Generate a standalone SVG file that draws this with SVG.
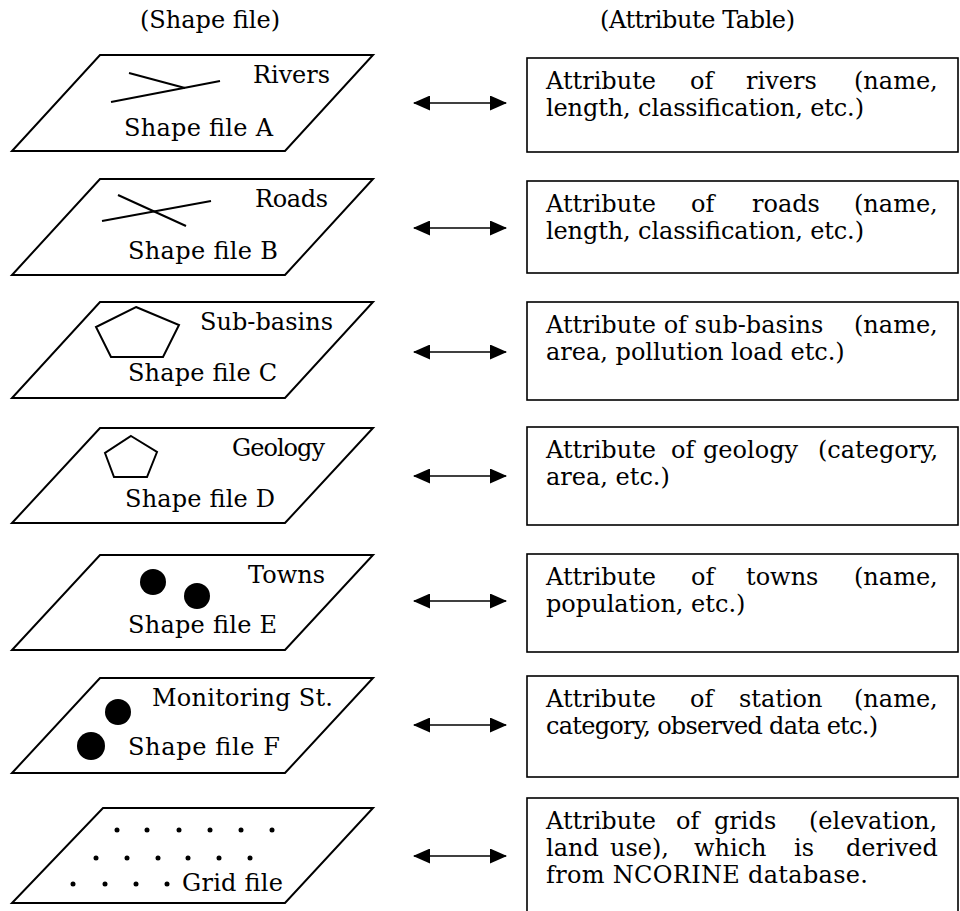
<svg xmlns="http://www.w3.org/2000/svg" width="960" height="911" viewBox="0 0 960 911" font-family="'DejaVu Serif', 'Liberation Serif', serif">
<defs>
<style>
text{font-family:"DejaVu Serif","Liberation Serif",serif;font-size:24px;fill:#000}
.pg{fill:none;stroke:#000;stroke-width:2}
.ft{fill:none;stroke:#000;stroke-width:2}
.box{fill:none;stroke:#000;stroke-width:1.6}
.arr{stroke:#000;stroke-width:1.6;fill:none;marker-start:url(#ah);marker-end:url(#ah)}
</style>
<marker id="ah" viewBox="0 0 17 15" refX="16" refY="7.5" markerWidth="17" markerHeight="15" markerUnits="userSpaceOnUse" orient="auto-start-reverse">
<path d="M0,0 L17,7.5 L0,15 Z" fill="#000"/>
</marker>
</defs>
<rect width="960" height="911" fill="#fff"/>
<g id="headers">
<text x="140" y="28" textLength="140">(Shape file)</text>
<text x="600" y="28" textLength="195">(Attribute Table)</text>
</g>
<g id="shapeA">
<polygon class="pg" points="100,55 373,55 285,151 12,151"/>
<polyline class="ft" points="129,73 185,88"/>
<polyline class="ft" points="111,102 220,81"/>
<text x="253" y="83" textLength="77">Rivers</text>
<text x="124" y="136" textLength="149">Shape file A</text>
</g>
<g id="shapeB">
<polygon class="pg" points="100,179 373,179 285,275 12,275"/>
<polyline class="ft" points="118,195 186,226"/>
<polyline class="ft" points="102,221 211,201"/>
<text x="255" y="207" textLength="73">Roads</text>
<text x="128" y="259" textLength="150">Shape file B</text>
</g>
<g id="shapeC">
<polygon class="pg" points="100,302 373,302 285,398 12,398"/>
<polygon class="ft" points="136,307 179,325 163,357 111,357 96,327"/>
<text x="200" y="330" textLength="133">Sub-basins</text>
<text x="128" y="381" textLength="149">Shape file C</text>
</g>
<g id="shapeD">
<polygon class="pg" points="100,428 373,428 285,523 12,523"/>
<polygon class="ft" points="131,436 157,452 147,477 114,477 105,453"/>
<text x="232" y="456" textLength="93">Geology</text>
<text x="125" y="507" textLength="150">Shape file D</text>
</g>
<g id="shapeE">
<polygon class="pg" points="100,555 373,555 285,650 12,650"/>
<circle cx="153" cy="582" r="13"/>
<circle cx="197" cy="596" r="13"/>
<text x="248" y="583" textLength="77">Towns</text>
<text x="128" y="633" textLength="149">Shape file E</text>
</g>
<g id="shapeF">
<polygon class="pg" points="100,678 373,678 285,773 12,773"/>
<circle cx="118" cy="712" r="13"/>
<circle cx="91" cy="746" r="14"/>
<text x="152" y="706" textLength="181">Monitoring St.</text>
<text x="128" y="755" textLength="152">Shape file F</text>
</g>
<g id="gridfile">
<polygon class="pg" points="103,808 373,808 285,903 12,903"/>
<g fill="#000">
<circle cx="117" cy="830" r="2.5"/><circle cx="147" cy="830" r="2.5"/><circle cx="179" cy="830" r="2.5"/><circle cx="210" cy="830" r="2.5"/><circle cx="241" cy="830" r="2.5"/><circle cx="272" cy="830" r="2.5"/>
<circle cx="96" cy="858" r="2.5"/><circle cx="127" cy="858" r="2.5"/><circle cx="158" cy="858" r="2.5"/><circle cx="188" cy="858" r="2.5"/><circle cx="219" cy="858" r="2.5"/><circle cx="250" cy="858" r="2.5"/>
<circle cx="73" cy="884" r="2.5"/><circle cx="105" cy="884" r="2.5"/><circle cx="136" cy="884" r="2.5"/><circle cx="167" cy="884" r="2.5"/>
</g>
<text x="182" y="891" textLength="101">Grid file</text>
</g>
<g id="connectors">
<path class="arr" d="M414,103 H506"/>
<path class="arr" d="M414,228 H506"/>
<path class="arr" d="M414,352 H506"/>
<path class="arr" d="M414,476 H506"/>
<path class="arr" d="M414,601 H506"/>
<path class="arr" d="M414,725 H506"/>
<path class="arr" d="M414,856 H506"/>
</g>
<g id="tableA">
<rect class="box" x="527" y="58" width="431" height="94"/>
<text y="89"><tspan x="546">Attribute</tspan><tspan x="690">of</tspan><tspan x="746">rivers</tspan><tspan x="854">(name,</tspan></text>
<text x="546" y="116" textLength="318">length, classification, etc.)</text>
</g>
<g id="tableB">
<rect class="box" x="527" y="181" width="431" height="92"/>
<text y="212"><tspan x="546">Attribute</tspan><tspan x="691">of</tspan><tspan x="752">roads</tspan><tspan x="854">(name,</tspan></text>
<text x="546" y="239" textLength="318">length, classification, etc.)</text>
</g>
<g id="tableC">
<rect class="box" x="527" y="302" width="431" height="98"/>
<text y="333"><tspan x="546">Attribute of sub-basins</tspan><tspan x="854">(name,</tspan></text>
<text x="546" y="360">area, pollution load etc.)</text>
</g>
<g id="tableD">
<rect class="box" x="527" y="427" width="431" height="98"/>
<text y="458"><tspan x="546">Attribute</tspan><tspan x="671">of</tspan><tspan x="703">geology</tspan><tspan x="818">(category,</tspan></text>
<text x="546" y="485">area, etc.)</text>
</g>
<g id="tableE">
<rect class="box" x="527" y="554" width="431" height="98"/>
<text y="585"><tspan x="546">Attribute</tspan><tspan x="691">of</tspan><tspan x="746">towns</tspan><tspan x="854">(name,</tspan></text>
<text x="546" y="612">population, etc.)</text>
</g>
<g id="tableF">
<rect class="box" x="527" y="676" width="431" height="101"/>
<text y="707"><tspan x="546">Attribute</tspan><tspan x="690">of</tspan><tspan x="739">station</tspan><tspan x="854">(name,</tspan></text>
<text x="546" y="734" textLength="332">category, observed data etc.)</text>
</g>
<g id="tableG">
<rect class="box" x="527" y="798" width="431" height="120"/>
<text y="829"><tspan x="546">Attribute</tspan><tspan x="676">of</tspan><tspan x="714">grids</tspan><tspan x="809">(elevation,</tspan></text>
<text y="856"><tspan x="546">land</tspan><tspan x="610">use),</tspan><tspan x="694">which</tspan><tspan x="794">is</tspan><tspan x="846">derived</tspan></text>
<text x="546" y="883" textLength="322">from NCORINE database.</text>
</g>
</svg>
